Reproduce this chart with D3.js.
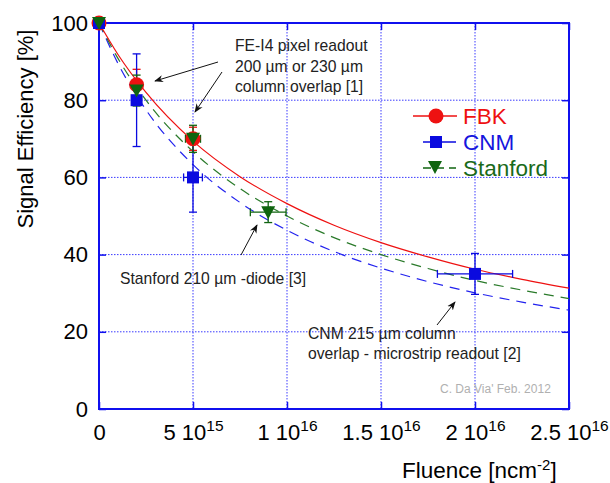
<!DOCTYPE html>
<html><head><meta charset="utf-8">
<script src="https://cdn.jsdelivr.net/npm/d3@7"></script>
<style>body{margin:0;background:#fff}svg{display:block}text{font-family:Arial,"Liberation Sans",sans-serif}</style>
</head><body><svg id="c" width="610" height="483"></svg>
<script>
// ---- data ----
const fbkFluence = [0, 2e15, 5e15];
const fbkEff = [100, 84, 70];
const fbkErrY = [0, 4, 3];
const fbkErrX = [0, 0, 0];
const cnmFluence = [0, 2e15, 5e15, 2e16];
const cnmEff = [100, 80, 60, 35];
const cnmErrY = [0, 12, 9, 5.3];
const cnmErrX = [0, 0, 5e14, 2e15];
const stanFluence = [0, 2e15, 5e15, 9e15];
const stanEff = [100, 82.5, 70, 51];
const stanErrY = [0, 4, 3.5, 2.7];
const stanErrX = [0, 0, 4e14, 9.5e14];
const fitFluence = [0, 1e15, 2.5e15, 5e15, 7.5e15, 1e16, 1.25e16, 1.5e16, 1.75e16, 2e16, 2.25e16, 2.5e16];
const fbkFit  = [100, 91.9, 82.0, 69.4, 60.2, 53.2, 47.6, 43.1, 39.4, 36.2, 33.6, 31.3];
const stanFit = [100, 90.9, 80.0, 66.7, 57.1, 50.0, 44.4, 40.0, 36.4, 33.3, 30.8, 28.6];
const cnmFit  = [100, 89.6, 77.5, 63.3, 53.5, 46.3, 40.8, 36.5, 33.0, 30.1, 27.7, 25.6];
const xTicks = [0, 5e15, 1e16, 1.5e16, 2e16, 2.5e16];
const xTickMant = ["0", "5", "1", "1.5", "2", "2.5"];
const xTickExp = ["", "15", "16", "16", "16", "16"];
const yTicks = [0, 20, 40, 60, 80, 100];
const seriesNames = ["FBK", "CNM", "Stanford"];

// ---- layout ----
const svg = d3.select("#c");
svg.append("rect").attr("width", 610).attr("height", 483).attr("fill", "#fff");
const L = 99, R = 569, T = 23, B = 409;
const x = d3.scaleLinear().domain([0, 2.5e16]).range([L, R]);
const y = d3.scaleLinear().domain([0, 100]).range([B, T]);
const AX = "#1010ee";
const RED = "#ee1111", BLUE = "#0a0adf", GREEN = "#0f640f", GREENL = "#2a7a2a";

// grid
const grid = svg.append("g").attr("stroke", "#3a3aff").attr("stroke-width", 1).attr("stroke-dasharray", "1.5,1.5");
xTicks.slice(1, -1).forEach(v => grid.append("line").attr("x1", x(v)).attr("x2", x(v)).attr("y1", T).attr("y2", B));
yTicks.slice(1, -1).forEach(v => grid.append("line").attr("y1", y(v)).attr("y2", y(v)).attr("x1", L).attr("x2", R));

// axes
const fs = "22px";
const gx = svg.append("g").attr("transform", `translate(0,${B})`)
  .call(d3.axisBottom(x).tickValues(xTicks).tickSizeInner(-7).tickSizeOuter(0).tickPadding(15).tickFormat((d, i) => xTickMant[i]));
gx.selectAll("text").each(function (d, i) {
  const t = d3.select(this);
  t.text(null).attr("fill", "#000").style("font-size", fs);
  t.append("tspan").text(xTickMant[i]);
  if (xTickExp[i]) {
    t.append("tspan").text(" 10");
    t.append("tspan").attr("dy", "-0.55em").style("font-size", "15.5px").text(xTickExp[i]);
  }
});
const gy = svg.append("g").attr("transform", `translate(${L},0)`)
  .call(d3.axisLeft(y).tickValues(yTicks).tickSizeInner(-7).tickSizeOuter(0).tickPadding(11));
gy.selectAll("text").attr("fill", "#000").style("font-size", fs);
svg.append("g").attr("transform", `translate(${R},0)`)
  .call(d3.axisRight(y).tickValues(yTicks).tickSizeInner(-7).tickSizeOuter(0).tickFormat(""));
svg.append("g").attr("transform", `translate(0,${T})`)
  .call(d3.axisTop(x).tickValues(xTicks).tickSizeInner(-7).tickSizeOuter(0).tickFormat(""));
svg.selectAll(".domain").remove();
svg.selectAll(".tick line").attr("stroke", AX).attr("stroke-width", 1.5);
svg.append("rect").attr("x", L).attr("y", T).attr("width", R - L).attr("height", B - T)
  .attr("fill", "none").attr("stroke", AX).attr("stroke-width", 2);

// titles
svg.append("text").attr("transform", "translate(33,129) rotate(-90)").attr("text-anchor", "middle")
  .style("font-size", fs).text("Signal Efficiency [%]");
const xt = svg.append("text").attr("x", 402).attr("y", 478).style("font-size", "22.5px");
xt.append("tspan").text("Fluence [ncm");
xt.append("tspan").attr("dy", "-0.55em").style("font-size", "15px").text("-2");
xt.append("tspan").attr("dy", "0.37em").text("]");

// fits
const line = d3.line().x((d, i) => x(fitFluence[i])).y(d => y(d)).curve(d3.curveMonotoneX);
svg.append("path").attr("d", line(cnmFit)).attr("fill", "none").attr("stroke", "#2222ee").attr("stroke-width", 1.2).attr("stroke-dasharray", "10,7");
svg.append("path").attr("d", line(stanFit)).attr("fill", "none").attr("stroke", GREENL).attr("stroke-width", 1.2).attr("stroke-dasharray", "10,7");
svg.append("path").attr("d", line(fbkFit)).attr("fill", "none").attr("stroke", RED).attr("stroke-width", 1.2);

// error bars
function errBars(fl, ef, ey, ex, col) {
  const g = svg.append("g").attr("stroke", col).attr("stroke-width", 1.3);
  fl.forEach((f, i) => {
    const cx = x(f), cy = y(ef[i]);
    if (ey[i]) {
      const y1 = y(ef[i] + ey[i]), y2 = y(ef[i] - ey[i]);
      g.append("line").attr("x1", cx).attr("x2", cx).attr("y1", y1).attr("y2", y2);
      g.append("line").attr("x1", cx - 4).attr("x2", cx + 4).attr("y1", y1).attr("y2", y1);
      g.append("line").attr("x1", cx - 4).attr("x2", cx + 4).attr("y1", y2).attr("y2", y2);
    }
    if (ex[i]) {
      const x1 = x(f - ex[i]), x2 = x(f + ex[i]);
      g.append("line").attr("y1", cy).attr("y2", cy).attr("x1", x1).attr("x2", x2);
      g.append("line").attr("y1", cy - 4).attr("y2", cy + 4).attr("x1", x1).attr("x2", x1);
      g.append("line").attr("y1", cy - 4).attr("y2", cy + 4).attr("x1", x2).attr("x2", x2);
    }
  });
}
errBars(fbkFluence, fbkEff, fbkErrY, fbkErrX, RED);
errBars(cnmFluence, cnmEff, cnmErrY, cnmErrX, BLUE);
errBars(stanFluence, stanEff, stanErrY, stanErrX, GREEN);

// markers
const circ = (g, cx, cy) => g.append("circle").attr("cx", cx).attr("cy", cy).attr("r", 7.5).attr("fill", RED);
const sq = (g, cx, cy) => g.append("rect").attr("x", cx - 6).attr("y", cy - 6).attr("width", 12).attr("height", 12).attr("fill", BLUE);
const tri = (g, cx, cy) => g.append("path").attr("d", `M${cx - 7},${cy - 6}L${cx + 7},${cy - 6}L${cx},${cy + 7}Z`).attr("fill", GREEN);
const mk = svg.append("g");
fbkFluence.forEach((f, i) => circ(mk, x(f), y(fbkEff[i])));
cnmFluence.forEach((f, i) => sq(mk, x(f), y(cnmEff[i])));
stanFluence.forEach((f, i) => tri(mk, x(f), y(stanEff[i])));

// legend
const lg = svg.append("g");
lg.append("line").attr("x1", 413).attr("x2", 457).attr("y1", 116).attr("y2", 116).attr("stroke", RED).attr("stroke-width", 1.3);
circ(lg, 436, 116);
lg.append("line").attr("x1", 423).attr("x2", 456).attr("y1", 142).attr("y2", 142).attr("stroke", BLUE).attr("stroke-width", 1.3);
sq(lg, 436, 142);
lg.append("line").attr("x1", 423).attr("x2", 456).attr("y1", 168).attr("y2", 168).attr("stroke", GREEN).attr("stroke-width", 1.3).attr("stroke-dasharray", "8,5");
tri(lg, 435, 167);
const lcol = [RED, "#1515dd", "#1a6a1a"];
seriesNames.forEach((n, i) => lg.append("text").attr("x", 463).attr("y", 124 + 26 * i).attr("fill", lcol[i]).style("font-size", "22.5px").text(n));

// annotations
svg.append("defs").append("marker").attr("id", "ah").attr("viewBox", "0 0 10 10").attr("refX", 9).attr("refY", 5)
  .attr("markerWidth", 9).attr("markerHeight", 9).attr("markerUnits", "userSpaceOnUse").attr("orient", "auto")
  .append("path").attr("d", "M0,1L10,5L0,9L3,5Z").attr("fill", "#111");
const arrows = [[218, 62, 155, 81], [222, 72, 195, 112], [241, 255, 257, 225], [437, 325, 455, 302]];
arrows.forEach(a => svg.append("line").attr("x1", a[0]).attr("y1", a[1]).attr("x2", a[2]).attr("y2", a[3])
  .attr("stroke", "#111").attr("stroke-width", 1).attr("marker-end", "url(#ah)"));
const notes = [
  [235, 51, "FE-I4 pixel readout"], [235, 72, "200 µm or 230 µm"], [235, 92, "column overlap [1]"],
  [120, 284, "Stanford 210 µm -diode [3]"],
  [308, 339, "CNM 215 µm column"], [308, 359, "overlap - microstrip readout [2]"]
];
notes.forEach(n => svg.append("text").attr("x", n[0]).attr("y", n[1]).attr("fill", "#222").style("font-size", "15.7px").text(n[2]));
svg.append("text").attr("x", 440).attr("y", 393).attr("fill", "#b0b0b0").style("font-size", "12px").text("C. Da Via' Feb. 2012");
</script></body></html>
